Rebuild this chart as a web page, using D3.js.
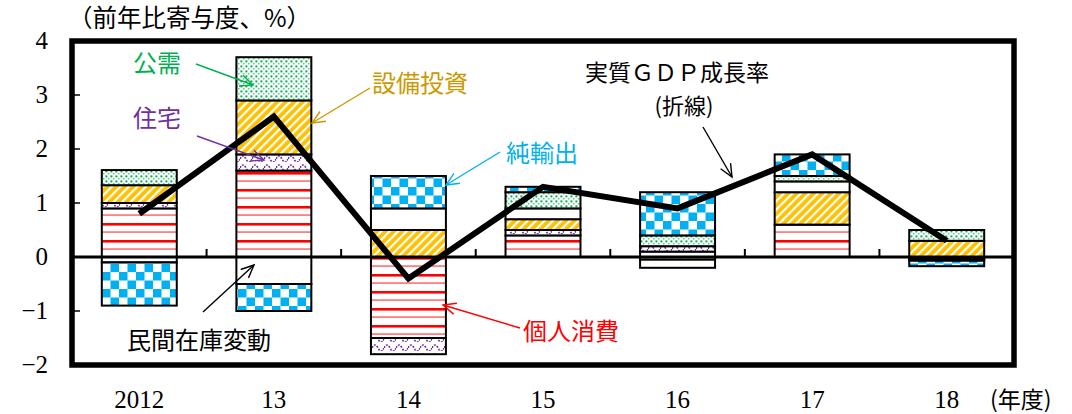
<!DOCTYPE html>
<html>
<head>
<meta charset="utf-8">
<script src="https://cdn.jsdelivr.net/npm/d3@7"></script>
<style>
  body { margin: 0; background: #fff; }
  text { font-family: "Noto Sans CJK JP", sans-serif; }
  .num { font-family: "Liberation Serif", "DejaVu Serif", serif; }
</style>
</head>
<body>
<svg id="chart" width="1072" height="414"></svg>
<script>
// 年度
const years = ["2012", "13", "14", "15", "16", "17", "18"];
// 寄与度 (%)
const consumption  = [0.9, 1.6, -1.5, 0.4, 0.1, 0.6, 0.0];
const housing      = [0.1, 0.3, -0.3, 0.1, 0.1, 0.0, -0.04];
const capex        = [0.33, 1.0, 0.5, 0.2, -0.05, 0.6, 0.3];
const inventory    = [-0.1, -0.5, 0.4, 0.2, -0.15, 0.2, -0.03];
const publicDemand = [0.28, 0.8, 0.0, 0.3, 0.2, 0.1, 0.2];
const netExports   = [-0.8, -0.5, 0.6, 0.1, 0.8, 0.4, -0.1];
// 実質GDP成長率
const gdp = [0.8, 2.6, -0.4, 1.3, 0.9, 1.9, 0.3];
const yTicks = [4, 3, 2, 1, 0, -1, -2];

const keys = ["consumption", "housing", "capex", "inventory", "publicDemand", "netExports"];
const seriesData = { consumption, housing, capex, inventory, publicDemand, netExports };

const width = 1072;
const height = 414;
const margins = { left: 72, right: 58, top: 41, bottom: 49 };

const svg = d3.select("#chart");
const defs = svg.append("defs");

// --- patterns ---
// 個人消費: red horizontal lines, thick/thin alternating
let p = defs.append("pattern").attr("id", "pat-consumption")
  .attr("patternUnits", "userSpaceOnUse").attr("width", 10).attr("height", 17);
p.append("rect").attr("width", 10).attr("height", 17).attr("fill", "#fff");
p.append("rect").attr("y", 2).attr("width", 10).attr("height", 2.6).attr("fill", "#ff0000");
p.append("rect").attr("y", 10.5).attr("width", 10).attr("height", 1.1).attr("fill", "#ff3030");

// 住宅: purple dotted wave
p = defs.append("pattern").attr("id", "pat-housing")
  .attr("patternUnits", "userSpaceOnUse").attr("width", 12).attr("height", 9);
p.append("rect").attr("width", 12).attr("height", 9).attr("fill", "#fff");
p.append("path").attr("d", "M0,6 Q3,0 6,6 T12,6")
  .attr("fill", "none").attr("stroke", "#7030a0").attr("stroke-width", 1.6)
  .attr("stroke-dasharray", "2,1.2");

// 設備投資: orange with white diagonal stripes
p = defs.append("pattern").attr("id", "pat-capex")
  .attr("patternUnits", "userSpaceOnUse").attr("width", 6).attr("height", 6)
  .attr("patternTransform", "rotate(45)");
p.append("rect").attr("width", 6).attr("height", 6).attr("fill", "#ffc000");
p.append("rect").attr("width", 2.2).attr("height", 6).attr("fill", "#fff");

// 民間在庫変動: plain white
p = defs.append("pattern").attr("id", "pat-inventory")
  .attr("patternUnits", "userSpaceOnUse").attr("width", 4).attr("height", 4);
p.append("rect").attr("width", 4).attr("height", 4).attr("fill", "#fff");

// 公需: green dots
p = defs.append("pattern").attr("id", "pat-publicDemand")
  .attr("patternUnits", "userSpaceOnUse").attr("width", 5).attr("height", 5);
p.append("rect").attr("width", 5).attr("height", 5).attr("fill", "#fff");
p.append("rect").attr("x", 0.4).attr("y", 0.4).attr("width", 2).attr("height", 2).attr("fill", "#00b050");
p.append("rect").attr("x", 2.9).attr("y", 2.9).attr("width", 1.6).attr("height", 1.6).attr("fill", "#5cc98a");

// 純輸出: blue checkerboard
p = defs.append("pattern").attr("id", "pat-netExports")
  .attr("patternUnits", "userSpaceOnUse").attr("width", 17).attr("height", 17);
p.append("rect").attr("width", 17).attr("height", 17).attr("fill", "#fff");
p.append("rect").attr("width", 8.5).attr("height", 8.5).attr("fill", "#00b0f0");
p.append("rect").attr("x", 8.5).attr("y", 8.5).attr("width", 8.5).attr("height", 8.5).attr("fill", "#00b0f0");

// --- scales ---
const x = d3.scaleBand()
  .domain(years)
  .range([margins.left, width - margins.right])
  .paddingInner(0.443)
  .paddingOuter(0.2215);

const y = d3.scaleLinear()
  .domain([-2, 4])
  .range([height - margins.bottom, margins.top]);

const rows = years.map((yr, i) => {
  const r = { year: yr };
  keys.forEach((k) => { r[k] = seriesData[k][i]; });
  return r;
});

const stacked = d3.stack().keys(keys).offset(d3.stackOffsetDiverging)(rows);

// bars
const barNode = svg.append("g").attr("id", "bars");
stacked.forEach((s) => {
  barNode.append("g")
    .selectAll("rect")
    .data(s.filter((d) => Math.abs(y(d[0]) - y(d[1])) > 0.5))
    .join("rect")
    .attr("x", (d) => x(d.data.year))
    .attr("width", x.bandwidth())
    .attr("y", (d) => y(Math.max(d[0], d[1])))
    .attr("height", (d) => Math.abs(y(d[0]) - y(d[1])))
    .attr("fill", `url(#pat-${s.key})`)
    .attr("stroke", "#000")
    .attr("stroke-width", 2);
});

// zero line + category ticks
svg.append("line")
  .attr("x1", margins.left).attr("x2", width - margins.right)
  .attr("y1", y(0)).attr("y2", y(0))
  .attr("stroke", "#000").attr("stroke-width", 3);

const step = x.step();
svg.append("g")
  .selectAll("line")
  .data(years.slice(0, -1))
  .join("line")
  .attr("x1", (d) => x(d) + x.bandwidth() / 2 + step / 2)
  .attr("x2", (d) => x(d) + x.bandwidth() / 2 + step / 2)
  .attr("y1", y(0))
  .attr("y2", y(0) - 8)
  .attr("stroke", "#000").attr("stroke-width", 2);

// y ticks (inner)
svg.append("g")
  .selectAll("line")
  .data(yTicks.filter((t) => t !== 0 && t !== 4 && t !== -2))
  .join("line")
  .attr("x1", margins.left).attr("x2", margins.left + 8)
  .attr("y1", (d) => y(d)).attr("y2", (d) => y(d))
  .attr("stroke", "#000").attr("stroke-width", 1.5);

// GDP line
const line = d3.line()
  .x((d, i) => x(years[i]) + x.bandwidth() / 2)
  .y((d) => y(d));
svg.append("path")
  .attr("d", line(gdp))
  .attr("fill", "none")
  .attr("stroke", "#000")
  .attr("stroke-width", 6)
  .attr("stroke-linejoin", "miter");

// frame
svg.append("rect")
  .attr("x", margins.left).attr("y", margins.top)
  .attr("width", width - margins.left - margins.right)
  .attr("height", height - margins.top - margins.bottom)
  .attr("fill", "none").attr("stroke", "#000").attr("stroke-width", 5.5);

// y tick labels
svg.append("g")
  .selectAll("text")
  .data(yTicks)
  .join("text")
  .attr("class", "num")
  .attr("x", 48)
  .attr("y", (d) => y(d) + 8)
  .attr("text-anchor", "end")
  .attr("font-size", 25)
  .text((d) => (d < 0 ? "\u2212" + Math.abs(d) : d));

// x labels
svg.append("g")
  .selectAll("text")
  .data(years)
  .join("text")
  .attr("class", "num")
  .attr("x", (d) => x(d) + x.bandwidth() / 2)
  .attr("y", 408)
  .attr("text-anchor", "middle")
  .attr("font-size", 25)
  .text((d) => d);

svg.append("text").attr("x", 990).attr("y", 408).attr("font-size", 23).text("(年度)");
svg.append("text").attr("x", 68).attr("y", 27).attr("font-size", 24.5).text("（前年比寄与度、%）");

// annotations
function drawArrow(x1, y1, x2, y2, color) {
  const g = svg.append("g").attr("stroke", color).attr("stroke-width", 1.4).attr("fill", "none");
  g.append("line").attr("x1", x1).attr("y1", y1).attr("x2", x2).attr("y2", y2);
  const a = Math.atan2(y2 - y1, x2 - x1);
  const len = 14, spread = 0.42;
  g.append("path").attr("d",
    `M${x2 - len * Math.cos(a - spread)},${y2 - len * Math.sin(a - spread)}` +
    `L${x2},${y2}` +
    `L${x2 - len * Math.cos(a + spread)},${y2 - len * Math.sin(a + spread)}`);
}

const labels = [
  { text: "公需", x: 133, y: 72, size: 24, color: "#00b050", arrow: [196, 64, 253, 85] },
  { text: "住宅", x: 133, y: 127, size: 24, color: "#7030a0", arrow: [197, 136, 264, 160] },
  { text: "設備投資", x: 372, y: 92, size: 24, color: "#cc9900", arrow: [370, 88, 312, 123] },
  { text: "純輸出", x: 506, y: 162, size: 24, color: "#00b0f0", arrow: [500, 152, 446, 185] },
  { text: "個人消費", x: 523, y: 340, size: 24, color: "#ff0000", arrow: [520, 328, 443, 305] },
  { text: "民間在庫変動", x: 127, y: 349, size: 24, color: "#000", arrow: [203, 312, 254, 265] },
  { text: "実質ＧＤＰ成長率", x: 585, y: 81, size: 23, color: "#000", arrow: [703, 127, 732, 177] },
];
labels.forEach((l) => {
  svg.append("text").attr("x", l.x).attr("y", l.y).attr("font-size", l.size)
    .attr("fill", l.color).text(l.text);
  drawArrow(...l.arrow, l.color);
});
svg.append("text").attr("x", 684).attr("y", 114).attr("font-size", 22)
  .attr("text-anchor", "middle").text("(折線)");
</script>
</body>
</html>
